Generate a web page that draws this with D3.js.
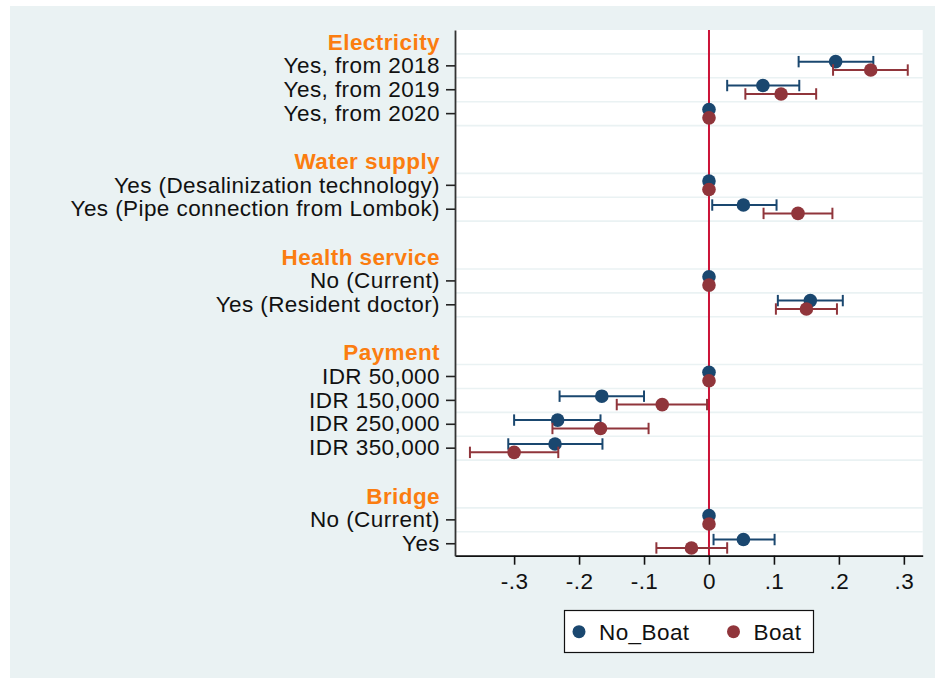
<!DOCTYPE html>
<html>
<head>
<meta charset="utf-8">
<script src="https://cdn.jsdelivr.net/npm/d3@7"></script>
<style>
  html, body { margin: 0; padding: 0; background: #ffffff; }
  svg { display: block; font-family: "Liberation Sans", Arial, sans-serif; }
</style>
</head>
<body>
<svg id="chart" width="935" height="678"></svg>
<script>
// Row layout: group headings and attribute levels, top to bottom.
const rowLabels = [
  "Electricity", "Yes, from 2018", "Yes, from 2019", "Yes, from 2020", "",
  "Water supply", "Yes (Desalinization technology)", "Yes (Pipe connection from Lombok)", "",
  "Health service", "No (Current)", "Yes (Resident doctor)", "",
  "Payment", "IDR 50,000", "IDR 150,000", "IDR 250,000", "IDR 350,000", "",
  "Bridge", "No (Current)", "Yes"
];
const headingRows = [0, 5, 9, 13, 19];
const levelRows = [1, 2, 3, 6, 7, 10, 11, 14, 15, 16, 17, 20, 21];

// Coefficients and 95% CIs per level, same order as levelRows.
const noBoatCoef = [0.195, 0.083, 0, 0, 0.053, 0, 0.156, 0, -0.165, -0.233, -0.237, 0, 0.053];
const noBoatLow  = [0.138, 0.028, 0, 0, 0.005, 0, 0.106, 0, -0.230, -0.300, -0.309, 0, 0.007];
const noBoatHigh = [0.253, 0.139, 0, 0, 0.104, 0, 0.206, 0, -0.100, -0.167, -0.164, 0, 0.101];

const boatCoef = [0.249, 0.111, 0, 0, 0.137, 0, 0.150, 0, -0.072, -0.167, -0.300, 0, -0.027];
const boatLow  = [0.191, 0.056, 0, 0, 0.084, 0, 0.103, 0, -0.142, -0.241, -0.368, 0, -0.081];
const boatHigh = [0.306, 0.165, 0, 0, 0.190, 0, 0.197, 0, -0.003, -0.093, -0.232, 0, 0.028];

const xTicks = [-0.3, -0.2, -0.1, 0, 0.1, 0.2, 0.3];
const xTickLabels = ["-.3", "-.2", "-.1", "0", ".1", ".2", ".3"];
const xDomain = [-0.391, 0.329];

const seriesNames = ["No_Boat", "Boat"];
const seriesColors = ["#1a476f", "#90353b"];

const W = 935, H = 678;
const plot = { left: 455, right: 922.7, top: 30, bottom: 555.7 };
const FONT = 22.5;
const SPACING = "0.42px";

const svg = d3.select("#chart");

// outer background
svg.append("rect").attr("x", 10).attr("y", 6).attr("width", W - 10).attr("height", H - 6)
  .attr("fill", "#eaf2f3");

// plot region
svg.append("rect").attr("x", plot.left).attr("y", plot.top)
  .attr("width", plot.right - plot.left).attr("height", plot.bottom - plot.top)
  .attr("fill", "#ffffff");

const x = d3.scaleLinear().domain(xDomain).range([plot.left, plot.right]);
const y = d3.scaleBand().domain(d3.range(rowLabels.length))
  .range([plot.top, plot.bottom]).paddingInner(0).paddingOuter(0);
const rowC = i => y(i) + y.bandwidth() / 2;

// grid lines bounding each level row
const gridYs = [];
levelRows.forEach(r => { gridYs.push(y(r)); gridYs.push(y(r) + y.bandwidth()); });
svg.append("g").selectAll("line").data(Array.from(new Set(gridYs.map(v => v.toFixed(2)))).map(Number))
  .join("line")
  .attr("x1", plot.left).attr("x2", plot.right)
  .attr("y1", d => d).attr("y2", d => d)
  .attr("stroke", "#eaf2f3").attr("stroke-width", 1.6);

// zero reference line
svg.append("line")
  .attr("x1", x(0)).attr("x2", x(0)).attr("y1", plot.top).attr("y2", plot.bottom)
  .attr("stroke", "#cc1337").attr("stroke-width", 2);

// x axis
const xAxis = d3.axisBottom(x).tickValues(xTicks)
  .tickFormat((d, i) => xTickLabels[i]).tickSize(9).tickPadding(8).tickSizeOuter(0);
const gx = svg.append("g").attr("transform", `translate(0,${plot.bottom})`).call(xAxis);
gx.select(".domain").attr("stroke", "#111").attr("stroke-width", 1.8);
gx.selectAll(".tick line").attr("stroke", "#111").attr("stroke-width", 1.6);
gx.selectAll(".tick text").attr("font-size", FONT).attr("fill", "#111")
  .attr("letter-spacing", SPACING)
  .attr("font-family", "Liberation Sans, Arial, sans-serif");

// y axis with level labels
const yAxis = d3.axisLeft(y).tickValues(levelRows)
  .tickFormat(i => rowLabels[i]).tickSize(9).tickPadding(6).tickSizeOuter(0);
const gy = svg.append("g").attr("transform", `translate(${plot.left},0)`).call(yAxis);
gy.select(".domain").attr("stroke", "#333").attr("stroke-width", 1.8);
gy.selectAll(".tick line").attr("stroke", "#222").attr("stroke-width", 1.6);
gy.selectAll(".tick text").attr("font-size", FONT).attr("fill", "#111")
  .attr("letter-spacing", SPACING)
  .attr("font-family", "Liberation Sans, Arial, sans-serif");

// group headings
svg.append("g").selectAll("text").data(headingRows).join("text")
  .attr("x", plot.left - 15).attr("y", i => rowC(i)).attr("dy", "0.35em")
  .attr("text-anchor", "end").attr("font-size", FONT).attr("font-weight", "bold")
  .attr("letter-spacing", SPACING)
  .attr("fill", "#fb7d10").text(i => rowLabels[i]);

// estimates with confidence intervals
const series = [
  { coef: noBoatCoef, lo: noBoatLow, hi: noBoatHigh, off: -4.2, color: seriesColors[0] },
  { coef: boatCoef, lo: boatLow, hi: boatHigh, off: 4.2, color: seriesColors[1] }
];
series.forEach(s => {
  const g = svg.append("g");
  const data = levelRows.map((r, k) => ({ r, c: s.coef[k], lo: s.lo[k], hi: s.hi[k] }));
  const ci = data.filter(d => d.hi - d.lo > 0);
  g.selectAll(".ci").data(ci).join("line").attr("class", "ci")
    .attr("x1", d => x(d.lo)).attr("x2", d => x(d.hi))
    .attr("y1", d => rowC(d.r) + s.off).attr("y2", d => rowC(d.r) + s.off)
    .attr("stroke", s.color).attr("stroke-width", 2);
  ["lo", "hi"].forEach(k => {
    g.selectAll(".cap-" + k).data(ci).join("line").attr("class", "cap-" + k)
      .attr("x1", d => x(d[k])).attr("x2", d => x(d[k]))
      .attr("y1", d => rowC(d.r) + s.off - 5.7).attr("y2", d => rowC(d.r) + s.off + 5.7)
      .attr("stroke", s.color).attr("stroke-width", 2);
  });
  g.selectAll("circle").data(data).join("circle")
    .attr("cx", d => x(d.c)).attr("cy", d => rowC(d.r) + s.off).attr("r", 6.8)
    .attr("fill", s.color);
});

// legend
const lg = svg.append("g");
lg.append("rect").attr("x", 564.5).attr("y", 610.5).attr("width", 249).attr("height", 42)
  .attr("fill", "#ffffff").attr("stroke", "#111").attr("stroke-width", 1.2);
const legendItems = [
  { name: seriesNames[0], color: seriesColors[0], cx: 579 },
  { name: seriesNames[1], color: seriesColors[1], cx: 733.5 }
];
legendItems.forEach(it => {
  lg.append("circle").attr("cx", it.cx).attr("cy", 631.7).attr("r", 6.5).attr("fill", it.color);
  lg.append("text").attr("x", it.cx + 20).attr("y", 631.7).attr("dy", "0.35em")
    .attr("font-size", FONT).attr("letter-spacing", SPACING)
    .attr("fill", "#111").text(it.name);
});
</script>
</body>
</html>
